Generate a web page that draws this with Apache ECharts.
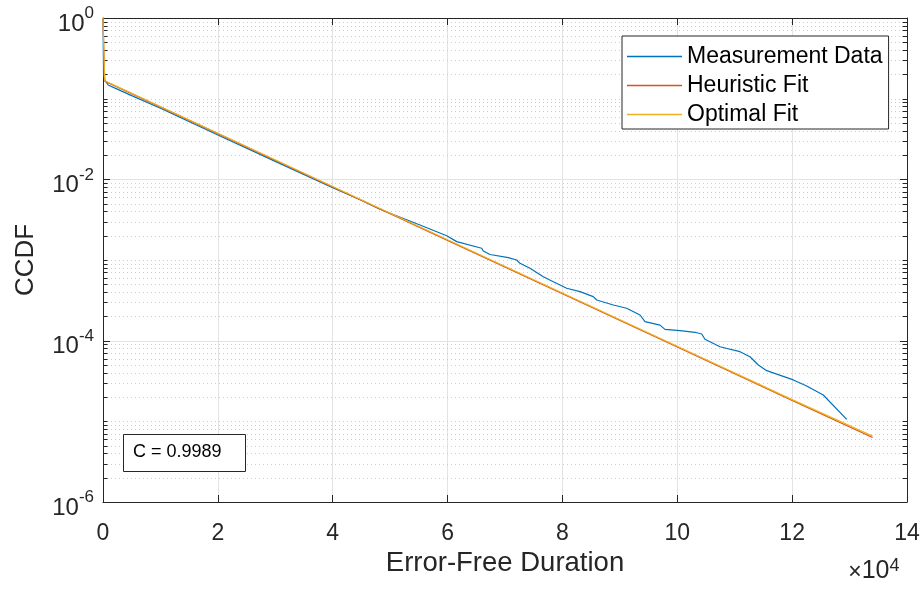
<!DOCTYPE html>
<html><head><meta charset="utf-8">
<script src="https://cdn.jsdelivr.net/npm/echarts@6/dist/echarts.min.js"></script>
<style>html,body{margin:0;padding:0;background:#fff}#c{width:923px;height:589px}</style>
</head><body><div id="c"></div>
<script>
// ---- data ----
const seriesNames = ['Measurement Data', 'Heuristic Fit', 'Optimal Fit'];
const measX = [0, 100, 300, 900, 2000, 5000, 10000, 20000, 30000, 40000, 45000, 48230, 55200, 59850, 61590, 65940, 66220, 67390, 70580, 72040, 72610, 74350, 76670, 78410, 79580, 80740, 83060, 85370, 85970, 88860, 91180, 93510, 94380, 96990, 97860, 100470, 103080, 104250, 104820, 107430, 110920, 112660, 114110, 115570, 120200, 122530, 125420, 129500];
const measY = [1, 0.2, 0.17, 0.148, 0.136, 0.109, 0.076, 0.0355, 0.0167, 0.00785, 0.0055, 0.00426, 0.00272, 0.0020, 0.00169, 0.0014, 0.00129, 0.00117, 0.00107, 0.0010, 0.00091, 0.00079, 0.00062, 0.000538, 0.00049, 0.000446, 0.000405, 0.000351, 0.000319, 0.000277, 0.000252, 0.000208, 0.000172, 0.000156, 0.000138, 0.000133, 0.000127, 0.000121, 0.000104, 0.0000841, 0.000073, 0.0000632, 0.00005, 0.0000425, 0.0000326, 0.0000274, 0.0000212, 0.0000106];
const heurX = [0, 300, 20000, 40000, 60000, 80000, 100000, 120000, 134000];
const heurY = [1, 0.165, 0.0369, 0.00805, 0.00175, 0.000382, 0.0000833, 0.0000182, 0.0000063];
const optX = [0, 300, 20000, 40000, 60000, 80000, 100000, 120000, 134000];
const optY = [1, 0.167, 0.0373, 0.00815, 0.00178, 0.00039, 0.0000852, 0.0000186, 0.00000655];
const xTickValues = [0, 20000, 40000, 60000, 80000, 100000, 120000, 140000];
const yLabelExps = [0, -2, -4, -6];
const annotationText = 'C = 0.9989';
const xScaleText = '10';
const xScaleExp = '4';

const FONT = 'Liberation Sans, Arial, Helvetica, sans-serif';
const AX = '#262626';
const colors = ['#0072BD', '#D95319', '#EDB120'];

// grid-line values for the log axis (majors are labelled decades, minors are 1..9 x 10^e)
const gridVals = [];
for (let e = -6; e <= 0; e++) {
  for (let k = 1; k <= 9; k++) {
    const v = k * Math.pow(10, e);
    if (v > 1.0000001) break;
    const major = (k === 1 && yLabelExps.indexOf(e) >= 0) ? 1 : 0;
    gridVals.push([0, v, major]);
  }
}

const zip = (xs, ys) => xs.map((x, i) => [x, ys[i]]);

const chart = echarts.init(document.getElementById('c'), null, {renderer: 'canvas'});
const xAxisBase = {
  type: 'value', min: 0, max: 140000, interval: 20000,
  axisLine: {show: true, onZero: false, lineStyle: {color: AX, width: 1}},
  axisTick: {show: true, inside: true, length: 7, lineStyle: {color: AX}},
};
chart.setOption({
  animation: false,
  backgroundColor: '#fff',
  grid: {left: 103, right: 16, top: 18, bottom: 87},
  xAxis: [
    Object.assign({}, xAxisBase, {
      position: 'bottom',
      axisLabel: {fontSize: 23, color: AX, fontFamily: FONT, margin: 20, formatter: v => String(v / 10000)},
      splitLine: {show: true, lineStyle: {color: '#e3e3e3', width: 1}},
      name: 'Error-Free Duration', nameLocation: 'middle', nameGap: 47,
      nameTextStyle: {fontSize: 27.5, color: AX, fontFamily: FONT}
    }),
    Object.assign({}, xAxisBase, {
      position: 'top', axisLabel: {show: false}, splitLine: {show: false}
    })
  ],
  yAxis: [
    {
      type: 'log', logBase: 10, min: 1e-6, max: 1, position: 'left',
      axisLine: {show: true, onZero: false, lineStyle: {color: AX, width: 1}},
      axisTick: {show: false}, splitLine: {show: false},
      axisLabel: {
        margin: 9, color: AX, fontFamily: FONT,
        formatter: function (v) {
          const e = Math.round(Math.log10(v));
          if (yLabelExps.indexOf(e) < 0) return '';
          return '{p| }{b|10}{s|' + e + '}';
        },
        rich: {
          p: {fontSize: 1, lineHeight: 36},
          b: {fontSize: 24, lineHeight: 24, verticalAlign: 'bottom', color: AX, fontFamily: FONT},
          s: {fontSize: 17, lineHeight: 24, padding: [5, 0, 0, 0], verticalAlign: 'top', color: AX, fontFamily: FONT}
        }
      },
      name: 'CCDF', nameLocation: 'middle', nameGap: 64,
      nameTextStyle: {fontSize: 26, color: AX, fontFamily: FONT}
    },
    {
      type: 'log', logBase: 10, min: 1e-6, max: 1, position: 'right',
      axisLine: {show: true, onZero: false, lineStyle: {color: AX, width: 1}},
      axisTick: {show: false}, splitLine: {show: false}, axisLabel: {show: false}
    }
  ],
  legend: {
    data: seriesNames, orient: 'vertical', left: 622, top: 36,
    icon: 'rect', itemWidth: 55, itemHeight: 1.5, itemGap: 6,
    padding: [9, 6, 3, 5],
    borderColor: AX, borderWidth: 1, backgroundColor: '#fff',
    textStyle: {fontSize: 23, color: '#000', fontFamily: FONT, lineHeight: 23}
  },
  series: [
    {
      type: 'custom', coordinateSystem: 'cartesian2d', xAxisIndex: 0, yAxisIndex: 0,
      silent: true, z: 0, clip: false, encode: {x: 0, y: 1},
      data: gridVals,
      renderItem: function (params, api) {
        const v = api.value(1), major = api.value(2);
        const p = api.coord([0, v]);
        const cs = params.coordSys;
        const x0 = cs.x, x1 = cs.x + cs.width;
        const y = Math.round(p[1]) + 0.5;
        const tl = major ? 7 : 4.5;
        const children = [];
        if (v < 0.9999 && v > 1.0001e-6) {
          children.push({type: 'line', shape: {x1: x0, y1: y, x2: x1, y2: y},
            style: major ? {stroke: '#e3e3e3', lineWidth: 1} : {stroke: '#cdcdcd', lineWidth: 1, lineDash: [1, 3]}});
        }
        children.push({type: 'line', shape: {x1: x0, y1: y, x2: x0 + tl, y2: y}, style: {stroke: AX, lineWidth: 1}});
        children.push({type: 'line', shape: {x1: x1 - tl, y1: y, x2: x1, y2: y}, style: {stroke: AX, lineWidth: 1}});
        return {type: 'group', children: children};
      }
    },
    {name: seriesNames[0], type: 'line', data: zip(measX, measY), showSymbol: false, symbol: 'none',
      lineStyle: {color: colors[0], width: 1.2}, itemStyle: {color: colors[0]}, z: 3},
    {name: seriesNames[1], type: 'line', data: zip(heurX, heurY), showSymbol: false, symbol: 'none',
      lineStyle: {color: colors[1], width: 1.2}, itemStyle: {color: colors[1]}, z: 4},
    {name: seriesNames[2], type: 'line', data: zip(optX, optY), showSymbol: false, symbol: 'none',
      lineStyle: {color: colors[2], width: 1.2}, itemStyle: {color: colors[2]}, z: 5}
  ],
  graphic: [
    {type: 'rect', left: 123, top: 434, z: 100,
      shape: {x: 0, y: 0, width: 122, height: 37},
      style: {fill: '#fff', stroke: AX, lineWidth: 1}},
    {type: 'text', left: 133, top: 443, z: 101,
      style: {text: annotationText, fontSize: 18, fill: '#000', fontFamily: FONT}},
    {type: 'text', left: 848, top: 554, z: 101,
      style: {
        text: '{p| }{m|×}{b|' + xScaleText + '}{s|' + xScaleExp + '}',
        rich: {
          p: {fontSize: 1, lineHeight: 30},
          m: {fontSize: 23, lineHeight: 24, verticalAlign: 'bottom', fill: AX, fontFamily: FONT},
          b: {fontSize: 25, lineHeight: 24, verticalAlign: 'bottom', fill: AX, fontFamily: FONT},
          s: {fontSize: 18, lineHeight: 21, padding: [3, 0, 0, 0], verticalAlign: 'top', fill: AX, fontFamily: FONT}
        }
      }}
  ]
});
</script>
</body></html>
